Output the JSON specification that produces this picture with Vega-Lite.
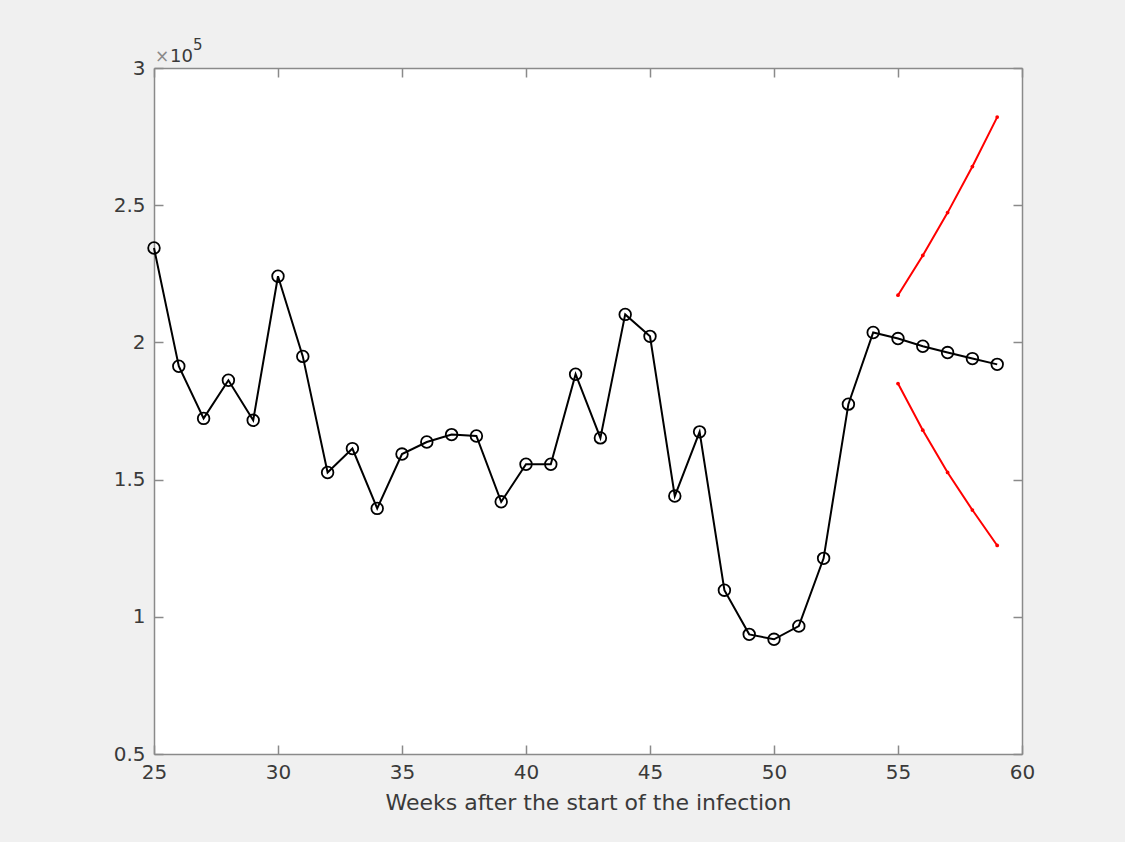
{
  "$schema": "https://vega.github.io/schema/vega-lite/v6.json",
  "width": 868,
  "height": 686,
  "autosize": {"type": "none"},
  "padding": {"left": 154, "top": 68, "right": 103, "bottom": 88},
  "background": "#f0f0f0",
  "config": {
    "view": {"fill": "white", "stroke": null},
    "axis": {
      "grid": false,
      "domainColor": "#8a8a8a",
      "domainWidth": 1.5,
      "tickColor": "#8a8a8a",
      "tickWidth": 1.5,
      "tickSize": -9,
      "labelFlush": false,
      "labelFont": "DejaVu Sans",
      "labelFontSize": 20,
      "labelColor": "#3a3a3a",
      "titleFont": "DejaVu Sans",
      "titleFontSize": 22,
      "titleFontWeight": "normal",
      "titleColor": "#3a3a3a"
    }
  },
  "datasets": {
    "obs": [
      {"week": 25, "value": 234400}, {"week": 26, "value": 191300}, {"week": 27, "value": 172300},
      {"week": 28, "value": 186200}, {"week": 29, "value": 171600}, {"week": 30, "value": 224100},
      {"week": 31, "value": 194900}, {"week": 32, "value": 152600}, {"week": 33, "value": 161300},
      {"week": 34, "value": 139500}, {"week": 35, "value": 159300}, {"week": 36, "value": 163700},
      {"week": 37, "value": 166400}, {"week": 38, "value": 165900}, {"week": 39, "value": 141900},
      {"week": 40, "value": 155600}, {"week": 41, "value": 155600}, {"week": 42, "value": 188400},
      {"week": 43, "value": 165200}, {"week": 44, "value": 210200}, {"week": 45, "value": 202200},
      {"week": 46, "value": 144000}, {"week": 47, "value": 167400}, {"week": 48, "value": 109700},
      {"week": 49, "value": 93600}, {"week": 50, "value": 91800}, {"week": 51, "value": 96600},
      {"week": 52, "value": 121300}, {"week": 53, "value": 177500}, {"week": 54, "value": 203600},
      {"week": 55, "value": 201400}, {"week": 56, "value": 198600}, {"week": 57, "value": 196300},
      {"week": 58, "value": 194100}, {"week": 59, "value": 192000}
    ],
    "bounds": [
      {"week": 55, "value": 217200, "bound": "upper"}, {"week": 56, "value": 231700, "bound": "upper"},
      {"week": 57, "value": 247300, "bound": "upper"}, {"week": 58, "value": 264100, "bound": "upper"},
      {"week": 59, "value": 282100, "bound": "upper"},
      {"week": 55, "value": 185000, "bound": "lower"}, {"week": 56, "value": 168000, "bound": "lower"},
      {"week": 57, "value": 152600, "bound": "lower"}, {"week": 58, "value": 138900, "bound": "lower"},
      {"week": 59, "value": 126000, "bound": "lower"}
    ],
    "exponent": [{"times": "×", "base": "10", "power": "5"}]
  },
  "layer": [
    {
      "data": {"name": "obs"},
      "mark": {
        "type": "line",
        "color": "black",
        "strokeWidth": 2,
        "point": {"shape": "circle", "filled": false, "size": 135, "stroke": "black", "strokeWidth": 1.8}
      },
      "encoding": {
        "x": {
          "field": "week", "type": "quantitative",
          "scale": {"domain": [25, 60], "nice": false, "zero": false},
          "axis": {"orient": "bottom", "values": [25, 30, 35, 40, 45, 50, 55, 60], "title": "Weeks after the start of the infection", "labelPadding": 17, "titlePadding": 10}
        },
        "y": {
          "field": "value", "type": "quantitative",
          "scale": {"domain": [50000, 300000], "nice": false, "zero": false},
          "axis": {"orient": "left", "values": [50000, 100000, 150000, 200000, 250000, 300000], "labelExpr": "format(datum.value / 100000, '~g')", "title": null, "labelPadding": 18}
        }
      }
    },
    {
      "data": {"name": "bounds"},
      "mark": {
        "type": "line",
        "color": "#ff0000",
        "strokeWidth": 2,
        "point": {"shape": "circle", "filled": true, "size": 14, "color": "#ff0000"}
      },
      "encoding": {
        "x": {
          "field": "week", "type": "quantitative",
          "axis": {"orient": "top", "values": [25, 30, 35, 40, 45, 50, 55, 60], "labels": false, "title": null}
        },
        "y": {
          "field": "value", "type": "quantitative",
          "axis": {"orient": "right", "values": [50000, 100000, 150000, 200000, 250000, 300000], "labels": false, "title": null}
        },
        "detail": {"field": "bound"}
      }
    },
    {
      "data": {"name": "exponent"},
      "mark": {"type": "text", "font": "DejaVu Sans", "fontSize": 17, "color": "#8a8a8a", "align": "left", "baseline": "alphabetic", "dx": 1, "dy": -6},
      "encoding": {
        "text": {"field": "times"},
        "x": {"datum": 25, "type": "quantitative", "axis": null},
        "y": {"datum": 300000, "type": "quantitative", "axis": null}
      }
    },
    {
      "data": {"name": "exponent"},
      "mark": {"type": "text", "font": "DejaVu Sans", "fontSize": 18, "color": "#3a3a3a", "align": "left", "baseline": "alphabetic", "dx": 16, "dy": -6},
      "encoding": {
        "text": {"field": "base"},
        "x": {"datum": 25, "type": "quantitative", "axis": null},
        "y": {"datum": 300000, "type": "quantitative", "axis": null}
      }
    },
    {
      "data": {"name": "exponent"},
      "mark": {"type": "text", "font": "DejaVu Sans", "fontSize": 15, "color": "#3a3a3a", "align": "left", "baseline": "alphabetic", "dx": 39, "dy": -18},
      "encoding": {
        "text": {"field": "power"},
        "x": {"datum": 25, "type": "quantitative", "axis": null},
        "y": {"datum": 300000, "type": "quantitative", "axis": null}
      }
    }
  ],
  "resolve": {"axis": {"x": "independent", "y": "independent"}}
}
